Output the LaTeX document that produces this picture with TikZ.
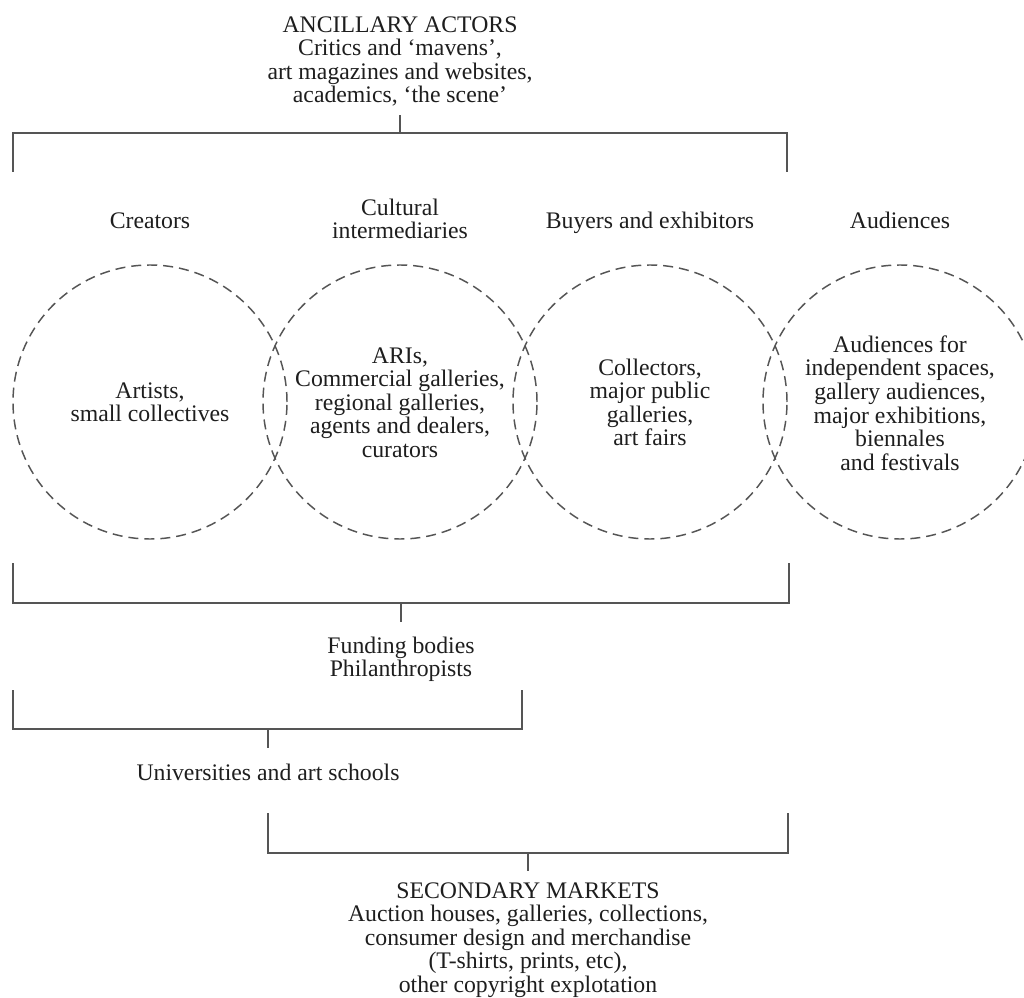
\documentclass[tikz,border=0pt]{standalone}
\usepackage{fontspec}
\setmainfont{Liberation Serif}
\definecolor{ink}{HTML}{1E1E1E}
\definecolor{rulegray}{HTML}{555555}
\newcommand{\diagfont}{\fontsize{17.8pt}{17.7pt}\selectfont}
\begin{document}
\begin{tikzpicture}[x=0.75pt,y=-0.75pt,
  txt/.style={align=center, inner sep=0pt, anchor=north, font=\diagfont, text=ink},
  ring/.style={circle, draw=rulegray, line width=1.1pt,
               dash pattern=on 7.5pt off 4.5pt, minimum size=205.5pt, inner sep=0pt},
  bracket/.style={draw=rulegray, line width=1.2pt, line join=miter},
]
\fill[white] (0,0) rectangle (1024,998);
\useasboundingbox (0,0) rectangle (1024,998);

% ancillary actors heading
\node[txt] (anc) at (400,15.4) {\strut ANCILLARY ACTORS\\Critics and ‘mavens’,\\art magazines and websites,\\academics, ‘the scene’};

% column headings
\node[txt] (hcre) at (150,211.4) {\strut Creators};
\node[txt] (hcul) at (400,198.4) {\strut Cultural\\intermediaries};
\node[txt] (hbuy) at (650,211.4) {\strut Buyers and exhibitors};
\node[txt] (haud) at (900,211.4) {\strut Audiences};

% overlapping dashed circles
\node[ring] (c1) at (150,402) {};
\node[ring] (c2) at (400,402) {};
\node[ring] (c3) at (650,402) {};
\node[ring] (c4) at (900,402) {};

% circle contents
\node[txt] (tcre) at (150,381.4) {\strut Artists,\\small collectives};
\node[txt] (tcul) at (400,346.4) {\strut ARIs,\\Commercial galleries,\\regional galleries,\\agents and dealers,\\curators};
\node[txt] (tbuy) at (650,358.4) {\strut Collectors,\\major public\\galleries,\\art fairs};
\node[txt] (taud) at (900,335.4) {\strut Audiences for\\independent spaces,\\gallery audiences,\\major exhibitions,\\biennales\\and festivals};

% lower labels
\node[txt] (fund) at (401,636.4) {\strut Funding bodies\\Philanthropists};
\node[txt] (univ) at (268,763.4) {\strut Universities and art schools};
\node[txt] (sec) at (528,881.4) {\strut SECONDARY MARKETS\\Auction houses, galleries, collections,\\consumer design and merchandise\\(T-shirts, prints, etc),\\other copyright explotation};

% bracket corner points
\coordinate (aL) at (13,172);   \coordinate (aLc) at (13,133);
\coordinate (aR) at (787,172);  \coordinate (aRc) at (787,133);
\coordinate (aM) at (400,133);  \coordinate (aT) at (400,115);

\coordinate (bL) at (13,563);   \coordinate (bLc) at (13,603);
\coordinate (bR) at (789,563);  \coordinate (bRc) at (789,603);
\coordinate (bM) at (401,603);  \coordinate (bT) at (401,622);

\coordinate (cL) at (13,690);   \coordinate (cLc) at (13,729);
\coordinate (cR) at (522,690);  \coordinate (cRc) at (522,729);
\coordinate (cM) at (268,729);  \coordinate (cT) at (268,748);

\coordinate (dL) at (268,813);  \coordinate (dLc) at (268,853);
\coordinate (dR) at (788,813);  \coordinate (dRc) at (788,853);
\coordinate (dM) at (528,853);  \coordinate (dT) at (528,871);

% brackets with their ticks
\draw[bracket] (aL) -- (aLc) -- (aRc) -- (aR);
\draw[bracket] (aM) -- (aT);
\draw[bracket] (bL) -- (bLc) -- (bRc) -- (bR);
\draw[bracket] (bM) -- (bT);
\draw[bracket] (cL) -- (cLc) -- (cRc) -- (cR);
\draw[bracket] (cM) -- (cT);
\draw[bracket] (dL) -- (dLc) -- (dRc) -- (dR);
\draw[bracket] (dM) -- (dT);
\end{tikzpicture}
\end{document}
